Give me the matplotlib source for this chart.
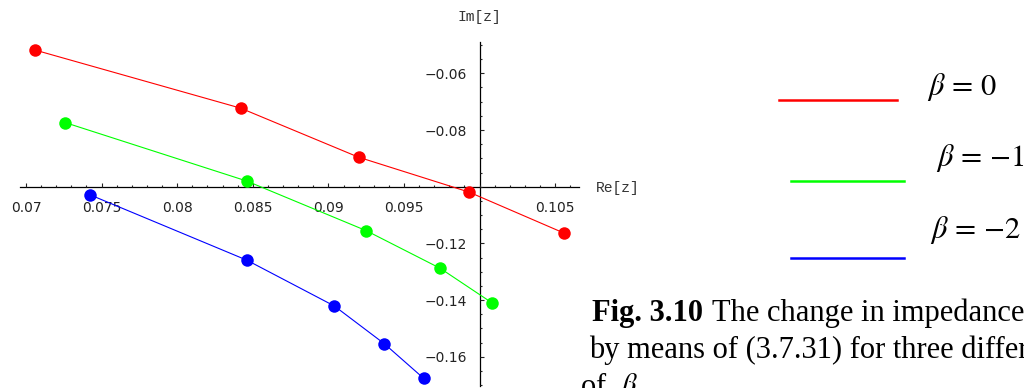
import matplotlib
matplotlib.use("Agg")
import matplotlib.pyplot as plt
from matplotlib.lines import Line2D
from matplotlib.ticker import FixedLocator, MultipleLocator

plt.rcParams['mathtext.fontset'] = 'stix'

# impedance trajectories, Re[z] / Im[z]
re_b0 = [0.0706, 0.0842, 0.0920, 0.0993, 0.1056]
im_b0 = [-0.0518, -0.0723, -0.0896, -0.1019, -0.1164]
re_b1 = [0.0726, 0.0846, 0.0925, 0.0974, 0.1008]
im_b1 = [-0.0774, -0.0980, -0.1155, -0.1288, -0.1409]
re_b2 = [0.07425, 0.0846, 0.0904, 0.0937, 0.0963]
im_b2 = [-0.1029, -0.1259, -0.1421, -0.1554, -0.1676]

x_ticks = [0.07, 0.075, 0.08, 0.085, 0.09, 0.095, 0.105]
x_labels = ["0.07", "0.075", "0.08", "0.085", "0.09", "0.095", "0.105"]
y_ticks = [-0.06, -0.08, -0.12, -0.14, -0.16]
y_labels = ["\u22120.06", "\u22120.08", "\u22120.12", "\u22120.14", "\u22120.16"]

legend_labels = [r"$\beta\,=\,0$", r"$\beta\,=\,{-}1$", r"$\beta\,=\,{-}2$"]
colors = ["#ff0000", "#00ff00", "#0000ff"]

W, H = 1024, 388
fig = plt.figure(figsize=(W / 100, H / 100), dpi=100)

# axes box in pixels
left, right, top, bottom = 20, 579, 41.7, 386
ax = fig.add_axes([left / W, (H - bottom) / H, (right - left) / W, (bottom - top) / H])
ax.set_xlim(0.069603, 0.106574)
ax.set_ylim(-0.1703, -0.04885)

for sp in ['top', 'right']:
    ax.spines[sp].set_visible(False)
ax.spines['left'].set_position(('data', 0.1))
ax.spines['bottom'].set_position(('data', -0.1))
for sp in ['left', 'bottom']:
    ax.spines[sp].set_linewidth(0.9)
    ax.spines[sp].set_zorder(1)

ax.xaxis.set_major_locator(FixedLocator(x_ticks))
ax.set_xticklabels(x_labels)
ax.xaxis.set_minor_locator(MultipleLocator(0.001))
ax.yaxis.set_major_locator(FixedLocator(y_ticks))
ax.set_yticklabels(y_labels)
ax.yaxis.set_minor_locator(MultipleLocator(0.005))

ax.tick_params(which='both', direction='in', colors='#222222', width=0.8)
ax.tick_params(which='major', length=3)
ax.tick_params(which='minor', length=1.6)
ax.tick_params(axis='x', which='major', pad=10, labelsize=10)
ax.tick_params(axis='y', which='major', pad=9, labelsize=10)

for xs, ys, c in zip([re_b0, re_b1, re_b2], [im_b0, im_b1, im_b2], colors):
    ax.plot(xs, ys, color=c, lw=0.8, zorder=2)
    ax.plot(xs, ys, 'o', color=c, ms=9, mec='none', zorder=3)

fig.text(479 / W, 1 - 17 / H, "Im[z]", family='Liberation Mono', fontsize=10.5,
         color='#333333', ha='center', va='center')
fig.text(596 / W, 1 - 188 / H, "Re[z]", family='Liberation Mono', fontsize=10.5,
         color='#333333', ha='left', va='center')

# legend samples
seg = [(779, 897, 100), (791, 904, 181), (791, 904, 258)]
for (x0, x1, y), c in zip(seg, colors):
    fig.add_artist(Line2D([x0 / W, x1 / W], [1 - y / H, 1 - y / H],
                          transform=fig.transFigure, color=c, lw=1.8))

lab_pos = [(927, 95), (936, 166), (930, 238)]
for (x, y), s in zip(lab_pos, legend_labels):
    fig.text(x / W, 1 - y / H, s, fontsize=22, va='baseline', ha='left')

# caption
cap_kw = dict(family='Liberation Serif', fontsize=22, va='baseline', ha='left')
fig.text(592 / W, 1 - 320.5 / H, "Fig. 3.10", weight='bold', **cap_kw)
fig.text(712 / W, 1 - 320.5 / H, "The change in impedance calculated", **cap_kw)
fig.text(589 / W, 1 - 358 / H, "by means of (3.7.31) for three different values", **cap_kw)
fig.text(580 / W, 1 - 395 / H, r"of  $\beta$", **cap_kw)

fig.savefig("out.png", dpi=100)
